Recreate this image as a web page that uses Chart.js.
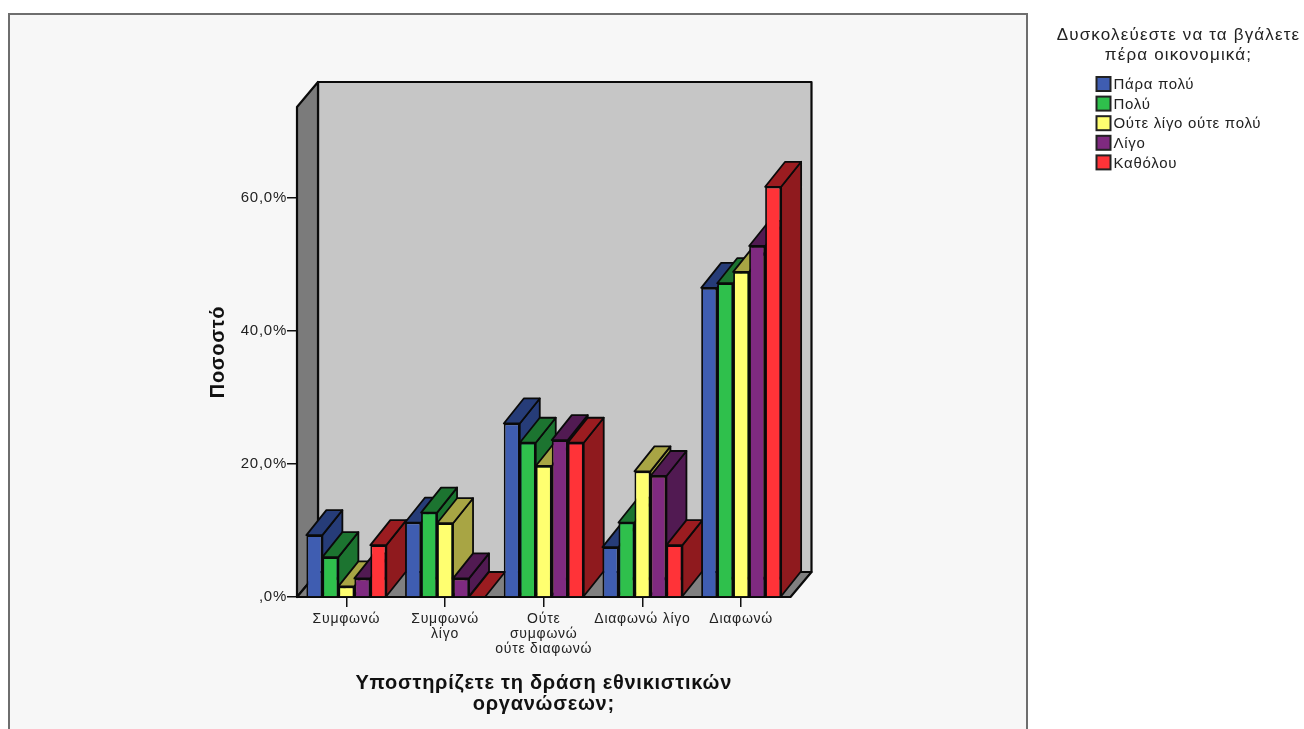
<!DOCTYPE html>
<html lang="el">
<head>
<meta charset="utf-8">
<style>
html,body{margin:0;padding:0;background:#fff;overflow:hidden}
#wrap{position:absolute;left:0;top:0;width:1304px;height:729px}
</style>
<script src="https://cdn.jsdelivr.net/npm/chart.js@4"></script>
</head>
<body>
<div id="wrap"><canvas id="c" width="1304" height="729"></canvas></div>
<script>
const categories = [
  'Συμφωνώ',
  ['Συμφωνώ', 'λίγο'],
  ['Ούτε', 'συμφωνώ', 'ούτε διαφωνώ'],
  'Διαφωνώ λίγο',
  'Διαφωνώ'
];
const paraPoly = [9.3, 11.2, 26.1, 7.5, 46.5];
const poly     = [6.0, 12.7, 23.2, 11.2, 47.2];
const outeOute = [1.6, 11.1, 19.7, 18.9, 48.9];
const ligo     = [2.8, 2.8, 23.6, 18.2, 52.8];
const katholou = [7.8, 0, 23.2, 7.8, 61.7];
const seriesNames = ['Πάρα πολύ', 'Πολύ', 'Ούτε λίγο ούτε πολύ', 'Λίγο', 'Καθόλου'];
const frontColors = ['#3f5db1', '#2fc04c', '#ffff70', '#7f2a80', '#ff3338'];
const topColors   = ['#263c78', '#1c7430', '#a8a544', '#511a52', '#9b1c20'];
const sideColors  = ['#263c78', '#1c7430', '#a8a544', '#511a52', '#8f1a1e'];
const legendTitle = ['Δυσκολεύεστε να τα βγάλετε', 'πέρα οικονομικά;'];
const yAxisTitle = 'Ποσοστό';
const xAxisTitle = ['Υποστηρίζετε τη δράση εθνικιστικών', 'οργανώσεων;'];
const yTicks = [0, 20, 40, 60];

const DX = 21, DY = 25;
const FONT = '"Liberation Sans", Arial, sans-serif';
const SPACING = '0.75px';

function poly4(ctx, pts, fill, lw) {
  ctx.beginPath();
  pts.forEach((p, i) => i ? ctx.lineTo(p[0], p[1]) : ctx.moveTo(p[0], p[1]));
  ctx.closePath();
  ctx.fillStyle = fill;
  ctx.fill();
  ctx.lineWidth = lw;
  ctx.strokeStyle = '#0a0a0a';
  ctx.lineJoin = 'round';
  ctx.stroke();
}

const scene = {
  id: 'scene',
  beforeDraw(chart) {
    const ctx = chart.ctx;
    ctx.letterSpacing = SPACING;
    ctx.save();
    ctx.fillStyle = '#f7f7f7';
    ctx.fillRect(9, 14, 1019, 715);
    ctx.strokeStyle = '#6e6e6e';
    ctx.lineWidth = 2;
    ctx.beginPath();
    ctx.moveTo(9, 729); ctx.lineTo(9, 14); ctx.lineTo(1027, 14); ctx.lineTo(1027, 729);
    ctx.stroke();
    ctx.restore();
  },
  beforeDatasetsDraw(chart) {
    const ctx = chart.ctx, a = chart.chartArea;
    const l = a.left, r = a.right, t = a.top, b = a.bottom;
    ctx.save();
    poly4(ctx, [[l + DX, t - DY], [r + DX, t - DY], [r + DX, b - DY], [l + DX, b - DY]], '#c6c6c6', 2.2);
    poly4(ctx, [[l, t], [l + DX, t - DY], [l + DX, b - DY], [l, b]], '#7b7b7b', 2.2);
    poly4(ctx, [[l, b], [l + DX, b - DY], [r + DX, b - DY], [r, b]], '#808080', 2.2);
    // depth faces of the bars, in reading order; the fronts are drawn on top by the library
    categories.forEach((_, j) => {
      chart.data.datasets.forEach((ds, i) => {
        const bar = chart.getDatasetMeta(i).data[j];
        const x0 = bar.x - bar.width / 2, x1 = bar.x + bar.width / 2;
        const yT = bar.y, yB = bar.base;
        if (yB - yT > 0.5) {
          poly4(ctx, [[x1, yT], [x1 + DX - 1, yT - DY], [x1 + DX - 1, yB - DY], [x1, yB]], sideColors[i], 1.8);
        }
        poly4(ctx, [[x0, yT], [x0 + DX - 1, yT - DY], [x1 + DX - 1, yT - DY], [x1, yT]], topColors[i], 1.8);
      });
    });
    ctx.restore();
  },
  afterDraw(chart) {
    const ctx = chart.ctx;
    ctx.save();
    ctx.fillStyle = '#222';
    ctx.font = '17px ' + FONT;
    ctx.letterSpacing = '1.15px';
    ctx.textAlign = 'center';
    ctx.textBaseline = 'middle';
    legendTitle.forEach((s, i) => ctx.fillText(s, 1178.5, 35.5 + i * 20));
    ctx.font = '15px ' + FONT;
    ctx.letterSpacing = '0.7px';
    ctx.textAlign = 'left';
    seriesNames.forEach((s, i) => {
      const y = 84 + i * 19.6;
      ctx.fillStyle = frontColors[i];
      ctx.fillRect(1096.5, y - 7, 14, 14);
      ctx.strokeStyle = '#222';
      ctx.lineWidth = 2;
      ctx.strokeRect(1096.5, y - 7, 14, 14);
      ctx.fillStyle = '#222';
      ctx.fillText(s, 1113.5, y + 1);
    });
    ctx.restore();
  }
};

new Chart(document.getElementById('c'), {
  type: 'bar',
  data: {
    labels: categories,
    datasets: [paraPoly, poly, outeOute, ligo, katholou].map((d, i) => ({
      label: seriesNames[i],
      data: d,
      backgroundColor: frontColors[i],
      borderColor: '#0a0a0a',
      borderWidth: 1.8,
      categoryPercentage: 0.81,
      barPercentage: 1
    }))
  },
  options: {
    responsive: false,
    animation: false,
    layout: { padding: { left: 206, right: 513.5, top: 107, bottom: 14 } },
    plugins: { legend: { display: false }, title: { display: false }, tooltip: { enabled: false } },
    scales: {
      x: {
        afterFit(s) { s.height = 118; },
        grid: { display: true, offset: false, drawOnChartArea: false, drawTicks: true, tickLength: 10, color: '#111', lineWidth: 1.5 },
        border: { display: false },
        ticks: {
          color: '#222', font: { family: FONT, size: 14, lineHeight: 1.1 },
          maxRotation: 0, minRotation: 0, autoSkip: false, padding: 4
        },
        title: {
          display: true, text: xAxisTitle, color: '#111',
          font: { family: FONT, size: 20, weight: 'bold', lineHeight: 1.05 }, padding: { top: 0, bottom: 0 }
        }
      },
      y: {
        min: 0, max: 73.7,
        afterFit(s) { s.width = 91; },
        afterBuildTicks(s) { s.ticks = yTicks.map(v => ({ value: v })); },
        grid: { display: true, drawOnChartArea: false, drawTicks: true, tickLength: 10, color: '#111', lineWidth: 1.5 },
        border: { display: false },
        ticks: {
          color: '#222', font: { family: FONT, size: 15 }, padding: 0,
          callback: v => (v === 0 ? ',0%' : v.toFixed(1).replace('.', ',') + '%')
        },
        title: {
          display: true, text: yAxisTitle, color: '#111',
          font: { family: FONT, size: 20, weight: 'bold' }, padding: { top: 0, bottom: 0 }
        }
      }
    }
  },
  plugins: [scene]
});
</script>
</body>
</html>
